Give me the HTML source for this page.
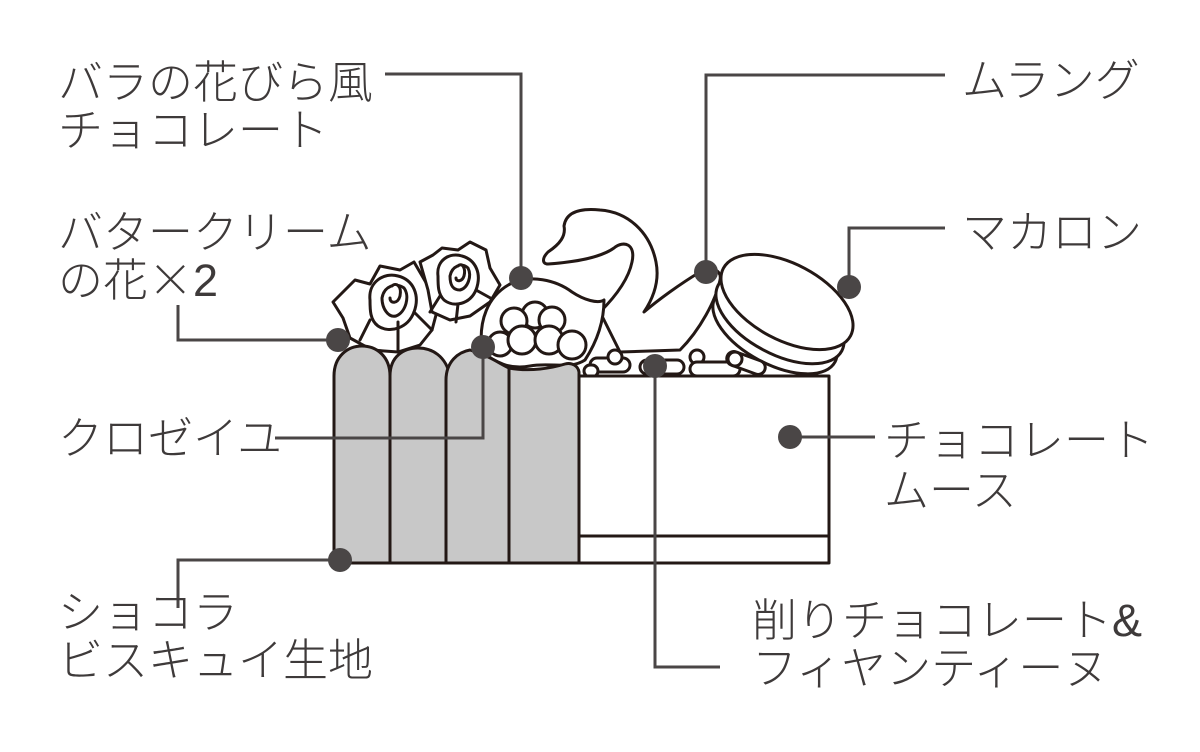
<!DOCTYPE html>
<html><head><meta charset="utf-8"><style>
html,body{margin:0;padding:0;background:#fff;}
svg{display:block;}
text{font-family:"Liberation Sans","Noto Sans CJK JP",sans-serif;font-size:45px;fill:#3e3a3a;font-weight:300;}
.cjk{font-family:"Noto Sans CJK JP",sans-serif;}
</style></head><body>
<svg width="1200" height="752" viewBox="0 0 1200 752" xmlns="http://www.w3.org/2000/svg">
<g fill="none" stroke="#231815" stroke-width="3" stroke-linejoin="round" stroke-linecap="round">
<g fill="#fff">
<path d="M343,318 L333,302 L355,280 L370,284 L380,266 L400,270 L414,262 L428,286 L440,300 L432,330 L420,345 L398,352 L372,350 L350,338 Z"/>
<path d="M370,300 C368,282 384,272 398,276 C414,280 420,296 414,312 C408,328 390,334 378,326 C370,320 370,310 370,300 Z"/>
<path d="M382,298 C384,286 396,282 404,288 C410,296 406,312 396,316 C388,318 382,308 382,298 Z"/>
<path d="M392,286 C396,282 402,286 400,296 C398,304 390,304 390,298"/>
<path d="M370,320 L360,340 M414,312 L432,330 M398,322 L398,350"/>
<path d="M420,262 L433,255 L442,248 L458,250 L470,242 L486,250 L490,268 L500,285 L490,302 L470,316 L450,320 L432,312 L428,290 Z"/>
<path d="M438,276 C436,260 450,252 462,256 C476,260 482,274 476,290 C470,304 454,308 444,300 C438,294 438,286 438,276 Z"/>
<path d="M450,276 C452,266 462,262 468,268 C472,276 468,288 460,290 C452,290 450,284 450,276 Z"/>
<path d="M458,266 C462,262 466,268 464,276 C462,282 456,282 456,278"/>
<path d="M440,296 L430,312 M476,290 L494,300 M458,304 L456,322"/>
</g>
<path fill="#fff" d="M600,312 C612,300 628,282 632,262 C636,244 624,240 614,248 C600,258 575,262 548,264 C542,264 542,258 548,252 C560,244 566,236 564,226 C566,212 580,208 600,210 C628,212 650,232 656,262 C660,282 652,300 644,312 C658,300 680,284 700,272 C712,266 722,270 720,280 C716,300 700,330 680,350 L620,352 Z"/>
<path fill="#fff" d="M482,352 C478,320 488,296 510,284 C530,274 556,280 572,292 C584,300 598,304 604,300 C604,320 598,340 585,360 C570,370 550,362 530,366 C510,370 495,362 482,352 Z"/>
<g fill="#fff">
<circle cx="535" cy="315" r="13"/><circle cx="514" cy="321" r="13"/><circle cx="552" cy="320" r="13"/>
<circle cx="500" cy="344" r="12"/><circle cx="522" cy="340" r="14"/><circle cx="549" cy="340" r="14"/><circle cx="572" cy="345" r="14"/>
</g>
<g fill="#fff">
<ellipse cx="775" cy="330" rx="68" ry="34" transform="rotate(28 775 330)"/>
<ellipse cx="780" cy="318" rx="70" ry="36" transform="rotate(28 780 318)"/>
<ellipse cx="787" cy="302" rx="72" ry="38" transform="rotate(28 787 302)"/>
</g>
<g fill="#fff">
<rect x="590" y="358" width="40" height="14" rx="7"/>
<rect x="608" y="350" width="14" height="14" rx="7"/>
<rect x="640" y="360" width="44" height="14" rx="7"/>
<rect x="690" y="350" width="14" height="14" rx="7"/>
<rect x="690" y="362" width="50" height="14" rx="7"/>
<rect x="726" y="356" width="40" height="14" rx="7" transform="rotate(20 746 363)"/>
<rect x="728" y="352" width="14" height="14" rx="7"/>
<rect x="584" y="365" width="14" height="12" rx="6"/>
</g>
<g fill="#c8c8c8">
<path d="M334,563 L334,376 C334,356 348,346 362,346 C376,346 390,356 390,376 L390,563 Z"/>
<path d="M390,563 L390,376 C390,356 404,348 418,348 C432,348 446,356 450,376 L446,563 Z"/>
<path d="M446,563 L446,380 C446,362 458,352 470,350 C490,356 500,364 509,368 L509,563 Z"/>
<path d="M509,563 L509,368 C530,372 552,368 565,364 C572,362 578,366 579,372 L579,563 Z"/>
</g>
<rect x="579" y="376" width="250" height="187" fill="#fff"/>
<line x1="579" y1="536" x2="829" y2="536"/>
</g>
<g fill="none" stroke="#4a4646" stroke-width="3">
<polyline points="385,74 521,74 521,278"/>
<polyline points="178,305 178,340 338,340"/>
<polyline points="275,438 483,438 483,347"/>
<polyline points="178,608 178,560 340,560"/>
<polyline points="945,75 706,75 706,272"/>
<polyline points="945,228 849,228 849,287"/>
<polyline points="790,437 875,437"/>
<polyline points="655,366 655,667 720,667"/>
</g>
<g fill="#4a4646">
<circle cx="521" cy="278" r="12"/><circle cx="338" cy="340" r="12"/><circle cx="483" cy="347" r="12"/>
<circle cx="340" cy="560" r="12"/><circle cx="706" cy="272" r="12"/><circle cx="849" cy="287" r="12"/>
<circle cx="790" cy="437" r="12"/><circle cx="655" cy="366" r="12"/>
</g>
<text x="58" y="98">バラの花びら風</text>
<text x="58" y="146">チョコレート</text>
<text x="58" y="248">バタークリーム</text>
<text x="58" y="296">の花<tspan class="cjk">×</tspan>2</text>
<text x="58" y="454">クロゼイユ</text>
<text x="58" y="628">ショコラ</text>
<text x="58" y="676">ビスキュイ生地</text>
<text x="962" y="96">ムラング</text>
<text x="962" y="248">マカロン</text>
<text x="884" y="456">チョコレート</text>
<text x="884" y="506">ムース</text>
<text x="752" y="636">削りチョコレート&amp;</text>
<text x="752" y="684">フィヤンティーヌ</text>
</svg>
</body></html>
